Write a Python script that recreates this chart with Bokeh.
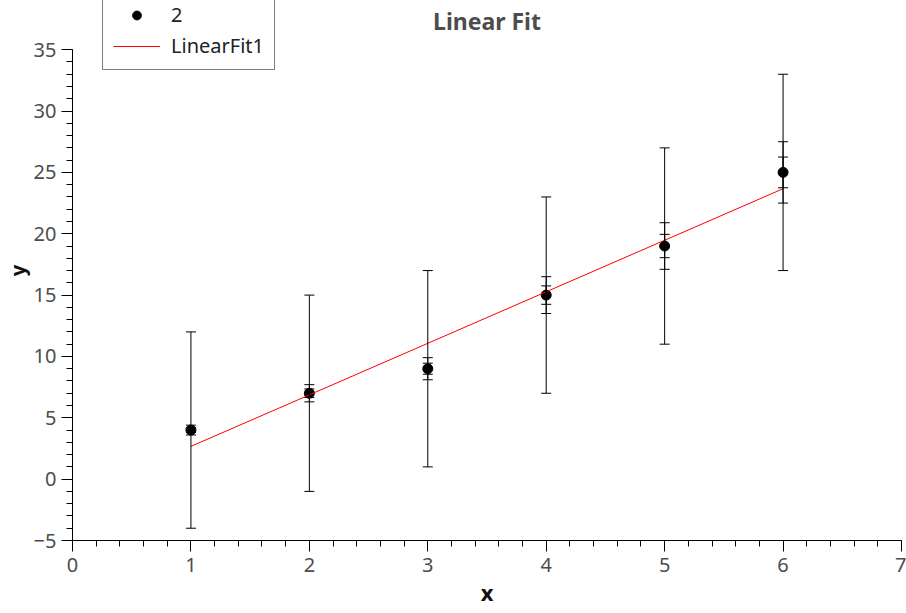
from bokeh.plotting import figure
from bokeh.models import (ColumnDataSource, Whisker, TeeHead, Range1d, Legend,
                          LegendItem, SingleIntervalTicker, Label)
from bokeh.embed import file_html
from bokeh.resources import INLINE

# data
x_vals = [1, 2, 3, 4, 5, 6]
y_vals = [4, 7, 9, 15, 19, 25]
err_big = [8, 8, 8, 8, 8, 8]
err_mid = [0.4, 0.7, 0.9, 1.5, 1.9, 2.5]
err_small = [0.2, 0.35, 0.45, 0.75, 0.95, 1.25]
fit_x = [1, 6]
fit_y = [2.67, 23.67]
title_text = "Linear Fit"

FONT = "Noto Sans"
TICK_COLOR = "#4d4d4d"

FRAME_H = 540
Y_TOP = 35 + 49.2 / 12.27

p = figure(width=906, height=610, output_backend="svg", toolbar_location=None,
           x_range=Range1d(0, 7), y_range=Range1d(-5, Y_TOP),
           min_border_left=71, min_border_right=5, min_border_top=0,
           min_border_bottom=70)
p.outline_line_color = None
p.xgrid.visible = False
p.ygrid.visible = False

for ax, step in ((p.xaxis[0], 1), (p.yaxis[0], 5)):
    ax.ticker = SingleIntervalTicker(interval=step, num_minor_ticks=5)
    ax.major_tick_out = 11
    ax.major_tick_in = 0
    ax.minor_tick_out = 6
    ax.minor_tick_in = 0
    ax.axis_line_color = "black"
    ax.major_tick_line_color = "black"
    ax.minor_tick_line_color = "black"
    ax.major_label_text_font = FONT
    ax.major_label_text_font_size = "20px"
    ax.major_label_text_color = TICK_COLOR
    ax.axis_label_text_font = FONT
    ax.axis_label_text_font_size = "22px"
    ax.axis_label_text_font_style = "bold"
    ax.axis_label_text_color = "#111111"

p.yaxis.bounds = (-5, 35)
p.xaxis.axis_label = "x"
p.yaxis.axis_label = "y"
p.yaxis.axis_label_text_font_size = "20px"
p.xaxis.major_label_standoff = 6
p.yaxis.major_label_standoff = 5
p.xaxis.axis_label_standoff = 2
p.yaxis.axis_label_standoff = 0

title = Label(x=3.5, y=FRAME_H - 20, y_units="screen", text=title_text,
              text_align="center", text_baseline="alphabetic",
              text_font=FONT, text_font_size="23px", text_font_style="bold",
              text_color="#4d4d4d")
p.add_layout(title)

pts = p.scatter(x_vals, y_vals, size=10, color="black")
fit = p.line(fit_x, fit_y, line_color="red", line_width=1)

def bands(err):
    return ColumnDataSource(dict(
        x=x_vals,
        upper=[y + e for y, e in zip(y_vals, err)],
        lower=[y - e for y, e in zip(y_vals, err)],
    ))

for err in (err_big, err_mid, err_small):
    w = Whisker(base="x", upper="upper", lower="lower", source=bands(err),
                level="overlay", line_color="black", line_width=1,
                upper_head=TeeHead(size=10, line_color="black", line_width=1),
                lower_head=TeeHead(size=10, line_color="black", line_width=1))
    p.add_layout(w)

legend = Legend(items=[LegendItem(label="2", renderers=[pts]),
                       LegendItem(label="LinearFit1", renderers=[fit])],
                location=(30, FRAME_H - 70))
legend.border_line_color = "black"
legend.border_line_width = 1
legend.label_text_font = FONT
legend.label_text_font_size = "20px"
legend.label_text_color = "#222222"
legend.label_standoff = 11
legend.glyph_width = 47
legend.glyph_height = 22
legend.label_height = 22
legend.spacing = 4
legend.padding = 10
legend.margin = 0
legend.background_fill_alpha = 1
p.add_layout(legend)

open("out.html", "w").write(file_html(p, INLINE))
